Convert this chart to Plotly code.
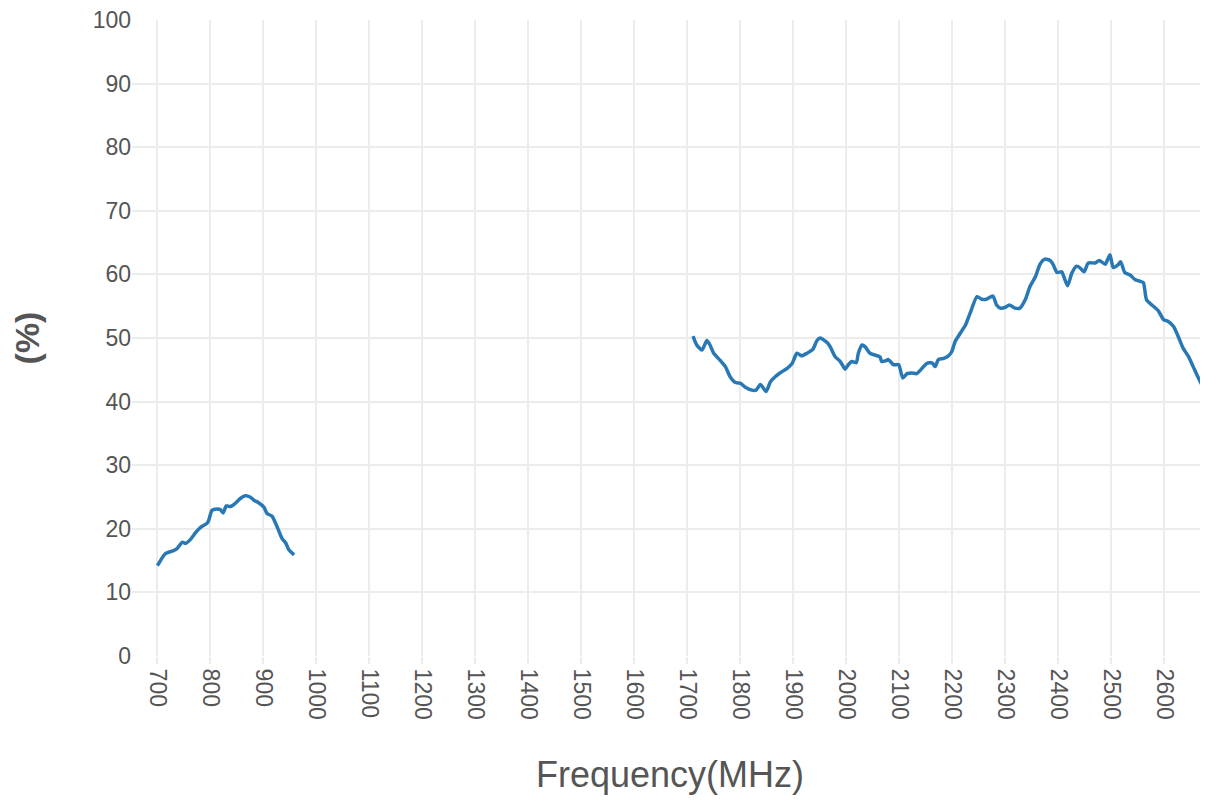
import plotly.graph_objects as go

# Segment 1 (low band)
freq_low = [700, 715, 728, 737, 747, 753, 762, 772, 781, 794, 797, 803, 813, 819, 824, 830,
            838, 847, 857, 866, 875, 882, 891, 901, 907, 916, 926, 935, 942, 948, 958]
eff_low = [14.2, 16.1, 16.5, 16.9, 17.9, 17.7, 18.3, 19.4, 20.2, 20.9, 21.4, 22.9, 23.1, 23.0, 22.5, 23.6,
           23.5, 24.0, 24.8, 25.2, 25.0, 24.5, 24.1, 23.4, 22.4, 22.0, 20.3, 18.5, 17.8, 16.7, 15.9]

# Segment 2 (high band)
freq_high = [1711, 1718, 1728, 1737, 1743, 1750, 1762, 1772, 1781, 1791, 1800, 1809, 1822, 1830, 1838,
             1849, 1857, 1866, 1875, 1888, 1898, 1907, 1916, 1926, 1937, 1945, 1951, 1964, 1970, 1979,
             1989, 1998, 2004, 2011, 2019, 2023, 2030, 2036, 2045, 2055, 2064, 2067, 2074, 2080, 2089,
             2099, 2107, 2115, 2124, 2133, 2143, 2152, 2162, 2168, 2174, 2184, 2193, 2199, 2206, 2215,
             2225, 2234, 2247, 2256, 2265, 2277, 2284, 2291, 2300, 2308, 2319, 2328, 2338, 2347, 2357,
             2366, 2375, 2385, 2391, 2398, 2407, 2411, 2418, 2426, 2435, 2442, 2449, 2457, 2470, 2478,
             2489, 2498, 2504, 2513, 2518, 2526, 2536, 2545, 2555, 2561, 2567, 2577, 2589, 2599, 2608,
             2618, 2627, 2636, 2646, 2655, 2665, 2674, 2683, 2692]
eff_high = [50.3, 48.9, 48.1, 49.6, 48.9, 47.6, 46.5, 45.5, 43.9, 43.0, 42.9, 42.3, 41.8, 41.8, 42.7,
            41.6, 43.1, 43.9, 44.5, 45.2, 46.0, 47.6, 47.2, 47.6, 48.2, 49.6, 50.0, 49.3, 48.6, 47.1,
            46.3, 45.1, 45.8, 46.3, 46.1, 47.6, 48.9, 48.6, 47.6, 47.3, 47.0, 46.3, 46.4, 46.6, 45.8,
            45.8, 43.7, 44.4, 44.5, 44.4, 45.2, 46.0, 46.1, 45.5, 46.6, 46.8, 47.2, 47.8, 49.5, 50.7,
            52.0, 53.9, 56.5, 56.1, 56.1, 56.6, 55.2, 54.7, 54.8, 55.2, 54.7, 54.7, 56.0, 58.1, 59.6,
            61.6, 62.4, 62.2, 61.5, 60.3, 60.4, 59.6, 58.2, 60.2, 61.3, 61.0, 60.4, 61.8, 61.8, 62.2,
            61.6, 63.1, 61.1, 61.5, 62.0, 60.3, 59.9, 59.2, 58.9, 58.7, 56.0, 55.2, 54.3, 52.9, 52.6,
            51.8, 50.2, 48.4, 47.1, 45.5, 43.7, 42.3, 41.6, 41.1]

x_ticks = list(range(700, 2700, 100))
y_ticks = list(range(0, 101, 10))

x_vals = freq_low + [None] + freq_high
y_vals = eff_low + [None] + eff_high

fig = go.Figure()
fig.add_trace(go.Scatter(
    x=x_vals, y=y_vals, mode="lines", connectgaps=False,
    line=dict(color="#2878b6", width=3.5, shape="spline", smoothing=0.6),
    hoverinfo="x+y", showlegend=False,
))

grid = "#ececec"
fig.update_layout(
    width=1200, height=795,
    paper_bgcolor="white", plot_bgcolor="white",
    margin=dict(l=124, r=0, t=12, b=147),
    font=dict(family="Arial, Liberation Sans, sans-serif", color="#555555"),
    xaxis=dict(
        range=[652, 2683], tickvals=x_ticks, ticktext=[str(v) for v in x_ticks],
        tickangle=90, tickfont=dict(size=23, color="#555555"),
        showgrid=True, gridcolor=grid, gridwidth=1.5, zeroline=False, showline=False,
        ticks="outside", ticklen=7, tickcolor=grid, tickwidth=1.5,
        title=dict(text="Frequency(MHz)", font=dict(size=36, color="#555555"), standoff=43),
    ),
    yaxis=dict(
        range=[0, 100], tickvals=y_ticks, tickfont=dict(size=23, color="#555555"),
        showgrid=True, gridcolor=grid, gridwidth=1.5, zeroline=False, showline=False,
        ticks="", ticklabeloverflow="allow",
        title=dict(text="<b>(%)</b>", font=dict(size=34, color="#555555"), standoff=55),
    ),
)

fig.write_html("out.html")
